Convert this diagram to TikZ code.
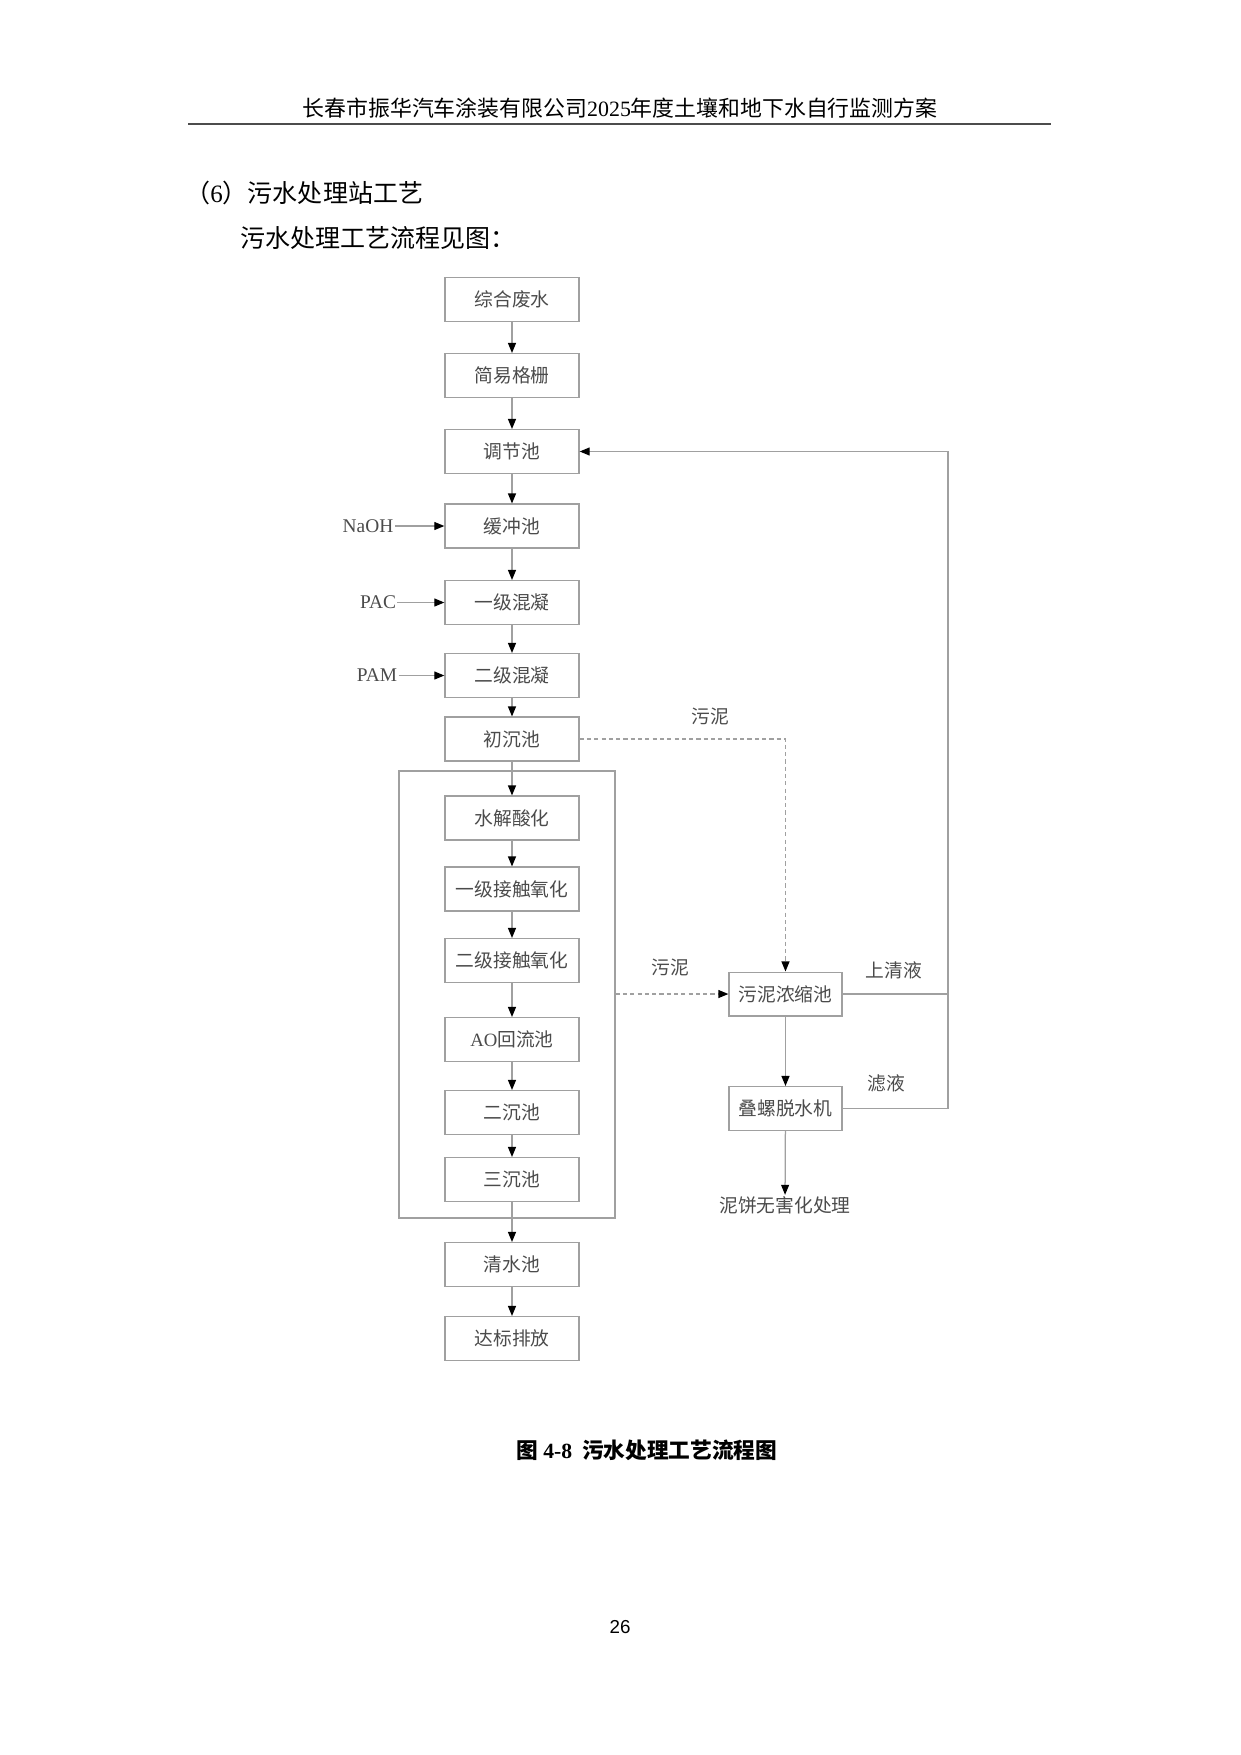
\documentclass[tikz,border=0pt]{standalone}
\usepackage{fontspec}
\setmainfont{Liberation Serif}
\newfontfamily\cjk{Noto Sans CJK SC}
\newfontfamily\arialfont{Liberation Sans}
\usetikzlibrary{arrows.meta}
\definecolor{linegray}{RGB}{160,160,160}
\definecolor{textgray}{RGB}{75,75,75}
\tikzset{
  box/.style={draw=linegray, line width=0.6pt, minimum width=64.3pt, minimum height=21pt,
    inner sep=0pt, font=\cjk\fontsize{9}{9}\selectfont, text=textgray},
  flow/.style={draw=linegray, line width=0.6pt, -{Triangle[length=4.8pt,width=3.8pt,color=black]}},
  sludge/.style={flow, dash pattern=on 2pt off 1.5pt},
  pipe/.style={draw=linegray, line width=0.6pt},
  lbl/.style={font=\cjk\fontsize{9}{9}\selectfont, text=textgray, inner sep=0.5pt},
  dose/.style={font=\fontsize{9.3}{9.3}\selectfont, text=textgray, inner sep=0.5pt},
}
\begin{document}
\begin{tikzpicture}[x=0.4797pt,y=-0.4797pt]
    \useasboundingbox (0,0) rectangle (1241,1755);

    % page head
    \node[font=\fontsize{10.5}{10.5}\selectfont] (head) at (620,108)
      {{\cjk 长春市振华汽车涂装有限公司}2025{\cjk 年度土壤和地下水自行监测方案}};
    \draw[line width=0.7pt, black!70] (188,124) -- (1051,124);
    \node[anchor=west, font=\cjk\fontsize{12}{12}\selectfont, inner sep=0] (sec) at (185,193)
      {（{\rmfamily 6}）污水处理站工艺};
    \node[anchor=west, font=\cjk\fontsize{12}{12}\selectfont, inner sep=0] (intro) at (240,238)
      {污水处理工艺流程见图：};

    % main line
    \foreach \n/\y/\t in {zh/299.5/综合废水, jy/375.5/简易格栅, tj/451.5/调节池, hc/526/缓冲池,
        hn1/602.5/一级混凝, hn2/675.5/二级混凝, cc/739/初沉池, sj/818/水解酸化,
        jc1/889/一级接触氧化, jc2/960.5/二级接触氧化, ao/1039.5/{{\rmfamily AO}回流池},
        ec/1112.5/二沉池, sc/1179.5/三沉池, qs/1264.5/清水池, db/1338.5/达标排放}{
    \node[box] (\n) at (512,\y) {\t};
    }
    \foreach \a/\b in {zh/jy, jy/tj, tj/hc, hc/hn1, hn1/hn2, hn2/cc, cc/sj, sj/jc1,
        jc1/jc2, jc2/ao, ao/ec, ec/sc, sc/qs, qs/db}{
    \draw[flow] (\a) -- (\b);
    }

    % biochemical unit
    \node[draw=linegray, line width=0.6pt, minimum width=103.6pt, minimum height=214.5pt,
      inner sep=0pt] (bio) at (507,994.5) {};

    % dosing
    \node[dose] (naoh) at (368,526) {NaOH};
    \node[dose] (pac) at (378,602.5) {PAC};
    \node[dose] (pam) at (377,675.5) {PAM};
    \draw[flow] (naoh) -- (hc);
    \draw[flow] (pac) -- (hn1);
    \draw[flow] (pam) -- (hn2);

    % sludge line
    \node[box, minimum width=54.2pt] (nsc) at (785.5,994) {污泥浓缩池};
    \node[box, minimum width=54.2pt] (dl) at (785.5,1108.5) {叠螺脱水机};
    \node[lbl] (nb) at (785,1205) {泥饼无害化处理};
    \draw[flow] (nsc) -- (dl);
    \draw[flow] (dl) -- (nb);
    \draw[sludge] (cc.east) -| (nsc.north);
    \draw[sludge] (bio.east |- nsc.west) -- (nsc.west);
    \node[lbl] (wn1) at (710,716) {污泥};
    \node[lbl] (wn2) at (670,967) {污泥};

    % return water
    \coordinate (rt) at (948,0);
    \draw[flow] (nsc.east) -| (rt |- tj.east) -- (tj.east);
    \draw[pipe] (dl.east) -| (rt |- nsc.east);
    \node[lbl] (sqy) at (894,970) {上清液};
    \node[lbl] (ly) at (886,1083) {滤液};

    % caption
    \node[font=\cjk\bfseries\fontsize{10.4}{10.4}\selectfont] (cap) at (647,1450)
      {图 {\rmfamily\bfseries 4-8}\ \ 污水处理工艺流程图};
    \node[font=\arialfont\fontsize{9}{9}\selectfont] (pg) at (620,1627) {26};
\end{tikzpicture}
\end{document}
